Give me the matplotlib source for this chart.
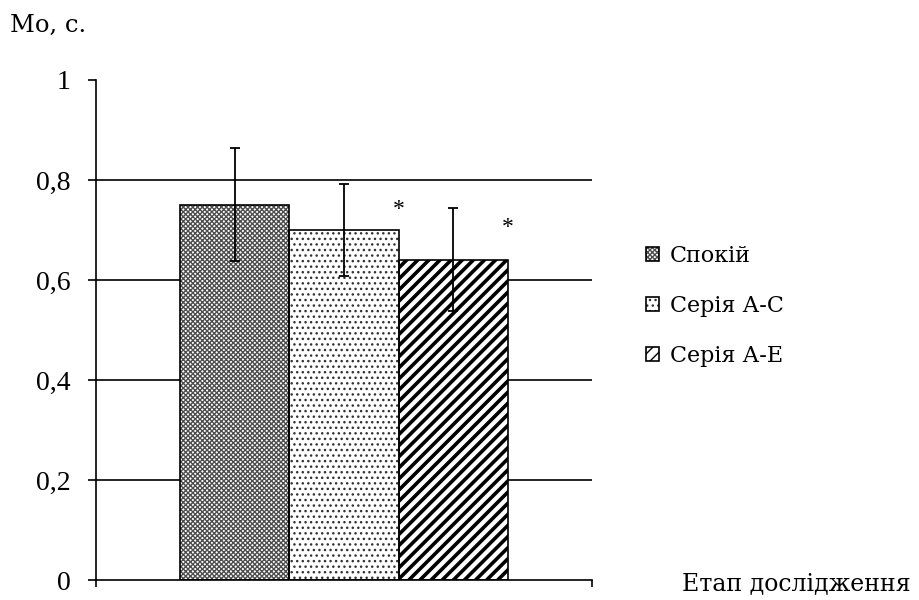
import matplotlib
matplotlib.use("Agg")
import matplotlib.pyplot as plt
from matplotlib.legend_handler import HandlerTuple
import numpy as np

# Mode (Мо) of RR intervals, seconds, at each study stage
series = ["Спокій", "Серія А-С", "Серія А-Е"]
values = [0.75, 0.70, 0.64]
errors = [0.113, 0.092, 0.103]
significant = [False, True, True]
star_heights = [None, 0.74, 0.705]
y_ticks = [0, 0.2, 0.4, 0.6, 0.8, 1.0]

hatches = ["xxxxxxx", "...", "///"]
hatch_colors = ["#4e4e4e", "#333333", "black"]
hatch_widths = [1.0, 1.0, 2.6]

plt.rcParams["font.family"] = ["Liberation Serif", "DejaVu Serif"]
text_font = ["DejaVu Serif"]

fig = plt.figure(figsize=(9.2, 6.0), dpi=100)
ax = fig.add_axes([0.1043, 0.0333, 0.5392, 0.8334])

width = 0.22
offsets = (np.arange(len(series)) - 1) * width
handles = []
for i, name in enumerate(series):
    plt.rcParams["hatch.linewidth"] = hatch_widths[i]
    filled = ax.bar(offsets[i], values[i], width=width, color="white",
                    edgecolor=hatch_colors[i], hatch=hatches[i], linewidth=0,
                    zorder=2)
    # solid outline drawn separately so the hatch colour stays its own
    outline = ax.bar(offsets[i], values[i], width=width, fill=False,
                     edgecolor="black", linewidth=1.2, zorder=3)
    handles.append((filled, outline))
    ax.errorbar(offsets[i], values[i], yerr=errors[i], fmt="none",
                ecolor="black", elinewidth=1.3, capsize=3.5, capthick=1.3,
                zorder=4)
    if significant[i]:
        ax.text(offsets[i] + width / 2, star_heights[i], "*",
                ha="center", va="center", fontsize=17, zorder=5)

ax.set_xlim(-0.5, 0.5)
ax.set_ylim(0, 1.0)
ax.set_yticks(y_ticks)
ax.set_yticklabels([("%g" % t).replace(".", ",") for t in y_ticks], fontsize=20)
ax.set_xticks([-0.5, 0.5])
ax.set_xticklabels([])
ax.tick_params(axis="y", direction="out", length=6, width=1.2, pad=12)
ax.tick_params(axis="x", direction="out", length=5, width=1.2)

for t in y_ticks[1:-1]:
    ax.axhline(t, color="black", linewidth=1.2, zorder=1)

for side in ["top", "right"]:
    ax.spines[side].set_visible(False)
for side in ["left", "bottom"]:
    ax.spines[side].set_linewidth(1.2)

fig.text(0.011, 0.957, "Мо, с.", fontsize=17.5, ha="left", va="center",
         family=text_font)
fig.text(0.741, 0.028, "Етап дослідження", fontsize=17, ha="left",
         va="center", family=text_font)

plt.rcParams["hatch.linewidth"] = 1.0
leg = fig.legend(handles=handles, labels=series, loc="center left",
                 bbox_to_anchor=(0.68, 0.49), frameon=False,
                 prop={"family": text_font, "size": 16},
                 handler_map={tuple: HandlerTuple(ndivide=1, pad=0)},
                 handlelength=0.6, handleheight=0.6, handletextpad=0.5,
                 labelspacing=1.25)

fig.savefig("out.png", dpi=100, facecolor="white")
